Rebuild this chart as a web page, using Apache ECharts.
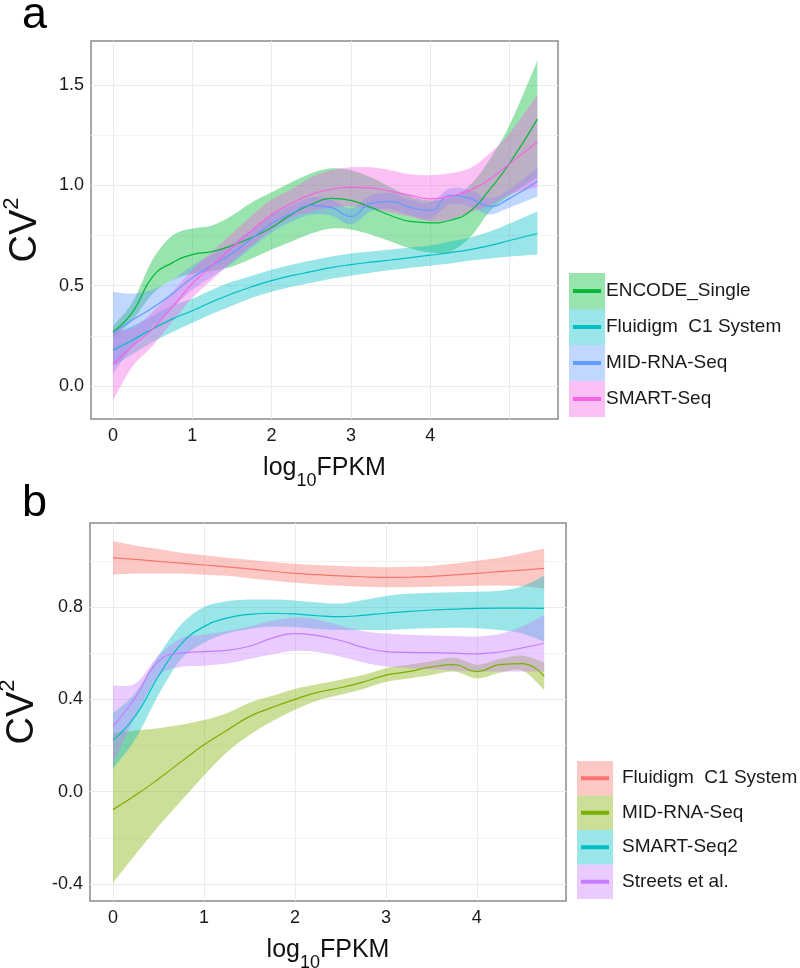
<!DOCTYPE html>
<html>
<head>
<meta charset="utf-8">
<script src="https://cdn.jsdelivr.net/npm/echarts@6/dist/echarts.min.js"></script>
<style>
  html, body { margin: 0; padding: 0; background: #fff; }
  #main { width: 800px; height: 968px; }
</style>
</head>
<body>
<div id="main"></div>
<script>
var FONT = "Liberation Sans, Arial, sans-serif";

// ---- panel a ----
var xa = [0, 0.25, 0.5, 0.75, 1, 1.25, 1.5, 1.75, 2, 2.25, 2.5, 2.75, 3, 3.25, 3.5, 3.75, 4, 4.25, 4.5, 4.75, 5, 5.35];

var encodeMean = [0.27, 0.37, 0.545, 0.615, 0.655, 0.67, 0.70, 0.74, 0.79, 0.855, 0.905, 0.935, 0.925, 0.89, 0.85, 0.82, 0.813, 0.826, 0.87, 0.98, 1.11, 1.33];
var encodeLow = [0.24, 0.33, 0.46, 0.53, 0.56, 0.575, 0.595, 0.635, 0.68, 0.72, 0.76, 0.785, 0.78, 0.755, 0.72, 0.685, 0.665, 0.67, 0.74, 0.87, 0.95, 1.04];
var encodeHigh = [0.30, 0.42, 0.63, 0.75, 0.785, 0.80, 0.85, 0.915, 0.965, 1.015, 1.06, 1.085, 1.075, 1.04, 0.99, 0.945, 0.925, 0.94, 1.0, 1.13, 1.30, 1.62];

var fluidMean = [0.18, 0.23, 0.285, 0.335, 0.375, 0.42, 0.46, 0.495, 0.525, 0.55, 0.57, 0.59, 0.605, 0.617, 0.628, 0.64, 0.652, 0.665, 0.68, 0.70, 0.725, 0.76];
var fluidLow = [0.10, 0.16, 0.22, 0.27, 0.315, 0.36, 0.40, 0.44, 0.47, 0.495, 0.515, 0.535, 0.55, 0.565, 0.578, 0.59, 0.60, 0.61, 0.625, 0.635, 0.645, 0.655];
var fluidHigh = [0.26, 0.30, 0.35, 0.40, 0.435, 0.48, 0.52, 0.55, 0.58, 0.605, 0.625, 0.645, 0.66, 0.67, 0.68, 0.69, 0.70, 0.72, 0.74, 0.77, 0.81, 0.87];

var midMean = [0.265, 0.33, 0.39, 0.46, 0.54, 0.60, 0.66, 0.735, 0.81, 0.86, 0.90, 0.89, 0.845, 0.91, 0.92, 0.89, 0.875, 0.95, 0.935, 0.895, 0.935, 1.02];
var midLow = [0.06, 0.20, 0.30, 0.39, 0.48, 0.545, 0.61, 0.69, 0.765, 0.82, 0.855, 0.85, 0.805, 0.87, 0.88, 0.85, 0.835, 0.905, 0.895, 0.855, 0.89, 0.945];
var midHigh = [0.47, 0.46, 0.48, 0.53, 0.60, 0.655, 0.71, 0.78, 0.855, 0.90, 0.94, 0.93, 0.885, 0.95, 0.96, 0.93, 0.915, 0.985, 0.975, 0.935, 0.98, 1.09];

var smartMean = [0.11, 0.20, 0.285, 0.395, 0.51, 0.60, 0.69, 0.775, 0.855, 0.91, 0.955, 0.98, 0.99, 0.987, 0.97, 0.95, 0.933, 0.945, 0.975, 1.03, 1.108, 1.216];
var smartLow = [-0.07, 0.10, 0.20, 0.32, 0.44, 0.53, 0.62, 0.70, 0.78, 0.84, 0.87, 0.89, 0.895, 0.885, 0.865, 0.845, 0.82, 0.83, 0.865, 0.90, 0.955, 0.99];
var smartHigh = [0.28, 0.29, 0.37, 0.47, 0.58, 0.67, 0.76, 0.85, 0.93, 0.98, 1.04, 1.075, 1.09, 1.09, 1.075, 1.055, 1.05, 1.06, 1.085, 1.16, 1.26, 1.45];

// ---- panel b ----
var xb = [0, 0.25, 0.5, 0.75, 1, 1.25, 1.5, 1.75, 2, 2.25, 2.5, 2.75, 3, 3.25, 3.5, 3.75, 4, 4.25, 4.5, 4.74];

var c1Mean = [1.013, 1.006, 0.998, 0.99, 0.982, 0.974, 0.965, 0.955, 0.946, 0.94, 0.935, 0.931, 0.928, 0.929, 0.933, 0.939, 0.946, 0.953, 0.96, 0.967];
var c1Low = [0.94, 0.945, 0.945, 0.945, 0.94, 0.935, 0.925, 0.915, 0.905, 0.898, 0.892, 0.888, 0.886, 0.886, 0.888, 0.89, 0.892, 0.893, 0.89, 0.88];
var c1High = [1.085, 1.067, 1.051, 1.035, 1.024, 1.013, 1.005, 0.995, 0.987, 0.982, 0.978, 0.974, 0.972, 0.974, 0.978, 0.988, 1.0, 1.013, 1.033, 1.054];

var midBMean = [-0.078, -0.015, 0.055, 0.13, 0.203, 0.265, 0.325, 0.365, 0.40, 0.43, 0.45, 0.475, 0.505, 0.52, 0.54, 0.55, 0.52, 0.55, 0.555, 0.50];
var midBLow = [-0.395, -0.27, -0.15, -0.04, 0.07, 0.17, 0.245, 0.305, 0.355, 0.395, 0.42, 0.445, 0.475, 0.49, 0.505, 0.52, 0.49, 0.515, 0.525, 0.44];
var midBHigh = [0.255, 0.265, 0.275, 0.29, 0.31, 0.34, 0.385, 0.415, 0.445, 0.465, 0.485, 0.505, 0.535, 0.55, 0.565, 0.58, 0.55, 0.575, 0.59, 0.56];

var seq2Mean = [0.222, 0.33, 0.50, 0.64, 0.715, 0.752, 0.768, 0.773, 0.77, 0.762, 0.758, 0.764, 0.773, 0.781, 0.787, 0.791, 0.794, 0.795, 0.795, 0.794];
var seq2Low = [0.10, 0.23, 0.42, 0.575, 0.645, 0.685, 0.705, 0.715, 0.713, 0.705, 0.70, 0.70, 0.70, 0.705, 0.708, 0.71, 0.708, 0.70, 0.685, 0.65];
var seq2High = [0.34, 0.43, 0.59, 0.725, 0.80, 0.825, 0.832, 0.832, 0.828, 0.82, 0.815, 0.83, 0.848, 0.857, 0.862, 0.864, 0.866, 0.87, 0.89, 0.935];

var streetsMean = [0.282, 0.41, 0.565, 0.60, 0.607, 0.612, 0.63, 0.665, 0.685, 0.676, 0.655, 0.625, 0.607, 0.603, 0.602, 0.60, 0.597, 0.605, 0.623, 0.643];
var streetsLow = [0.12, 0.33, 0.50, 0.54, 0.545, 0.555, 0.575, 0.595, 0.61, 0.605, 0.585, 0.56, 0.542, 0.535, 0.53, 0.525, 0.52, 0.52, 0.52, 0.52];
var streetsHigh = [0.46, 0.47, 0.59, 0.665, 0.68, 0.695, 0.715, 0.74, 0.755, 0.745, 0.72, 0.695, 0.685, 0.68, 0.677, 0.674, 0.672, 0.683, 0.715, 0.765];

// ticks and grid lines
var xTicksA = [0, 1, 2, 3, 4];
var xGridA = [0, 1, 2, 3, 4, 5];
var yTicksA = [0, 0.5, 1, 1.5];
var yMinorA = [0.25, 0.75, 1.25];
var xTicksB = [0, 1, 2, 3, 4];
var yTicksB = [-0.4, 0, 0.4, 0.8];
var yMinorB = [-0.2, 0.2, 0.6, 1.0];

var groupsA = [
  { key: 'a|ENCODE_Single', color: '#00BA38', fill: 'rgba(0,186,56,0.4)', mean: encodeMean, lo: encodeLow, hi: encodeHigh },
  { key: 'a|Fluidigm  C1 System', color: '#00BFC4', fill: 'rgba(0,191,196,0.4)', mean: fluidMean, lo: fluidLow, hi: fluidHigh },
  { key: 'a|MID-RNA-Seq', color: '#619CFF', fill: 'rgba(97,156,255,0.4)', mean: midMean, lo: midLow, hi: midHigh },
  { key: 'a|SMART-Seq', color: '#F564E3', fill: 'rgba(245,100,227,0.4)', mean: smartMean, lo: smartLow, hi: smartHigh }
];
var groupsB = [
  { key: 'b|Fluidigm  C1 System', color: '#F8766D', fill: 'rgba(248,118,109,0.4)', mean: c1Mean, lo: c1Low, hi: c1High },
  { key: 'b|MID-RNA-Seq', color: '#7CAE00', fill: 'rgba(124,174,0,0.4)', mean: midBMean, lo: midBLow, hi: midBHigh },
  { key: 'b|SMART-Seq2', color: '#00BFC4', fill: 'rgba(0,191,196,0.4)', mean: seq2Mean, lo: seq2Low, hi: seq2High },
  { key: 'b|Streets et al.', color: '#C77CFF', fill: 'rgba(199,124,255,0.4)', mean: streetsMean, lo: streetsLow, hi: streetsHigh }
];

// smooth path through pixel points (catmull-rom as cubic beziers)
function curve(p, move) {
  var s = move ? 'M' + p[0][0] + ' ' + p[0][1] : '';
  for (var i = 0; i < p.length - 1; i++) {
    var a = p[Math.max(i - 1, 0)], b = p[i], c = p[i + 1], e = p[Math.min(i + 2, p.length - 1)];
    s += 'C' + (b[0] + (c[0] - a[0]) / 6) + ' ' + (b[1] + (c[1] - a[1]) / 6) + ' ' +
      (c[0] - (e[0] - b[0]) / 6) + ' ' + (c[1] - (e[1] - b[1]) / 6) + ' ' + c[0] + ' ' + c[1];
  }
  return s;
}

function bandSeries(g, xs, gi) {
  return {
    type: 'custom',
    name: g.key + ' band',
    xAxisIndex: gi,
    yAxisIndex: gi,
    itemStyle: { color: g.fill },
    encode: { x: 0, y: [1, 2] },
    data: xs.map(function (x, i) { return [x, g.lo[i], g.hi[i]]; }),
    renderItem: function (params, api) {
      if (params.dataIndex !== 0) return null;
      var top = xs.map(function (x, i) { return api.coord([x, g.hi[i]]); });
      var bot = xs.map(function (x, i) { return api.coord([x, g.lo[i]]); }).reverse();
      var d = curve(top, true) + 'L' + bot[0][0] + ' ' + bot[0][1] + curve(bot, false) + 'Z';
      return { type: 'path', shape: { pathData: d }, style: { fill: g.fill } };
    }
  };
}

function lineSeries(g, xs, gi) {
  return {
    type: 'line',
    name: g.key,
    xAxisIndex: gi,
    yAxisIndex: gi,
    data: xs.map(function (x, i) { return [x, g.mean[i]]; }),
    smooth: 0.5,
    symbol: 'none',
    itemStyle: { color: g.color },
    lineStyle: { color: g.color, width: 1.2 }
  };
}

function gridLines(xv, yMajor, yMinor) {
  var d = [];
  xv.forEach(function (v) { d.push({ xAxis: v, lineStyle: { color: '#ebebeb', width: 1 } }); });
  yMajor.forEach(function (v) { d.push({ yAxis: v, lineStyle: { color: '#ebebeb', width: 1 } }); });
  yMinor.forEach(function (v) { d.push({ yAxis: v, lineStyle: { color: '#f3f3f3', width: 1 } }); });
  return { silent: true, z: 1, symbol: ['none', 'none'], label: { show: false }, lineStyle: { type: 'solid' }, data: d };
}

var series = [];
groupsA.forEach(function (g) { series.push(bandSeries(g, xa, 0)); series.push(lineSeries(g, xa, 0)); });
groupsB.forEach(function (g) { series.push(bandSeries(g, xb, 1)); series.push(lineSeries(g, xb, 1)); });
series[1].markLine = gridLines(xGridA, yTicksA, yMinorA);
series[9].markLine = gridLines(xTicksB, yTicksB, yMinorB);

var labelStyle = { fontSize: 18, color: '#1a1a1a', fontFamily: FONT };
var xName = {
  name: '{m|log}{s|10}{m|FPKM}',
  nameLocation: 'middle',
  nameGap: 37,
  nameTextStyle: {
    rich: {
      m: { fontSize: 25, fontFamily: FONT, color: '#111', lineHeight: 30, verticalAlign: 'top' },
      s: { fontSize: 18, fontFamily: FONT, color: '#111', lineHeight: 18, padding: [16, 0, 0, 0], verticalAlign: 'top' }
    }
  }
};
var yName = {
  name: '{m|CV}{s|2}',
  nameLocation: 'middle',
  nameRotate: 90,
  nameGap: 46,
  nameTextStyle: {
    rich: {
      m: { fontSize: 38, fontFamily: FONT, color: '#111', lineHeight: 44, verticalAlign: 'bottom' },
      s: { fontSize: 22, fontFamily: FONT, color: '#111', lineHeight: 22, verticalAlign: 'top' }
    }
  }
};

function xAxis(gi, min, max, ticks) {
  return Object.assign({
    type: 'value', gridIndex: gi, min: min, max: max,
    splitLine: { show: false },
    axisLine: { show: false },
    axisTick: { show: true, customValues: ticks, length: 5, lineStyle: { color: '#7a7a7a', width: 1 } },
    axisLabel: Object.assign({ customValues: ticks, margin: 8 }, labelStyle)
  }, xName);
}
function yAxis(gi, min, max, ticks) {
  return Object.assign({
    type: 'value', gridIndex: gi, min: min, max: max,
    splitLine: { show: false },
    axisLine: { show: false },
    axisTick: { show: true, customValues: ticks, length: 5, lineStyle: { color: '#7a7a7a', width: 1 } },
    axisLabel: Object.assign({
      customValues: ticks, margin: 7,
      formatter: function (v) { return v.toFixed(1); }
    }, labelStyle)
  }, yName);
}

function legendPair(groups, left, top, h, textPad) {
  var fills = groups.map(function (g) { return g.key + ' band'; });
  var lines = groups.map(function (g) { return g.key; });
  return [{
    data: fills, orient: 'vertical', left: left, top: top, padding: 0,
    itemWidth: 36, itemHeight: h, itemGap: 0, icon: 'rect', selectedMode: false,
    formatter: function () { return ''; }
  }, {
    data: lines, orient: 'vertical', left: left + 4, top: top, padding: 0,
    itemWidth: 28, itemHeight: 4, itemGap: 0, icon: 'rect', selectedMode: false,
    formatter: function (n) { return n.slice(2); },
    textStyle: { fontSize: 19, fontFamily: FONT, color: '#1a1a1a', lineHeight: h, padding: [0, 0, 0, textPad] }
  }];
}

var chart = echarts.init(document.getElementById('main'), null, { renderer: 'canvas' });
chart.setOption({
  animation: false,
  backgroundColor: '#fff',
  title: [
    { text: 'a', left: 22, top: -7, padding: 0, textStyle: { fontSize: 45, fontWeight: 'normal', color: '#000', fontFamily: FONT } },
    { text: 'b', left: 22, top: 481, padding: 0, textStyle: { fontSize: 45, fontWeight: 'normal', color: '#000', fontFamily: FONT } }
  ],
  grid: [
    { left: 91, top: 41, width: 467, height: 378, outerBoundsMode: 'none', containLabel: false, show: true, borderColor: '#8a8a8a', borderWidth: 1.5, backgroundColor: 'transparent' },
    { left: 90, top: 523, width: 476, height: 378, outerBoundsMode: 'none', containLabel: false, show: true, borderColor: '#8a8a8a', borderWidth: 1.5, backgroundColor: 'transparent' }
  ],
  xAxis: [xAxis(0, -0.277, 5.61, xTicksA), xAxis(1, -0.253, 4.98, xTicksB)],
  yAxis: [yAxis(0, -0.164, 1.719, yTicksA), yAxis(1, -0.474, 1.164, yTicksB)],
  legend: legendPair(groupsA, 569, 273, 36, 0).concat(legendPair(groupsB, 577, 761, 34.5, 8)),
  series: series
});
</script>
</body>
</html>
